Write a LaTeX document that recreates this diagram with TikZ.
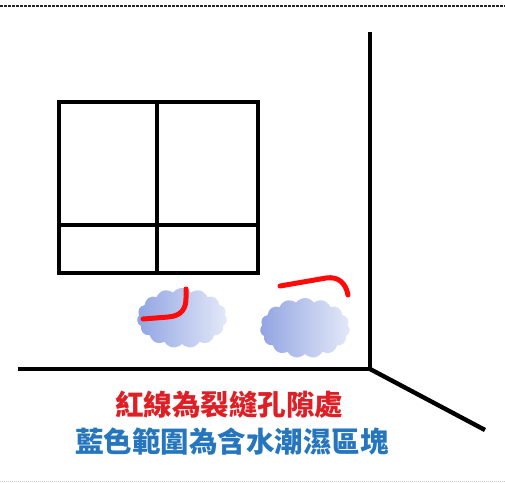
\documentclass[tikz,border=0pt]{standalone}
\usepackage{fontspec}
\newfontfamily\cjkfont{Noto Sans CJK TC}
\usetikzlibrary{shapes.symbols}
\definecolor{crackred}{RGB}{255,10,10}
\definecolor{textred}{RGB}{222,32,38}
\definecolor{textblue}{RGB}{38,118,190}
\definecolor{dampdark}{RGB}{145,164,226}
\definecolor{damplight}{RGB}{228,233,248}
\tikzset{
  wall/.style={line width=3.6pt, color=black},
  frame/.style={line width=4pt, color=black, line cap=rect},
  crack/.style={line width=5pt, color=crackred, line cap=round},
  damp/.style={
    cloud, cloud puffs=15, cloud puff arc=110, aspect=1.5,
    inner sep=0pt, minimum width=90pt, minimum height=60pt,
    left color=dampdark, right color=damplight
  },
  caption/.style={font=\cjkfont\bfseries\fontsize{28.5}{33}\selectfont}
}

\begin{document}
\begin{tikzpicture}[x=1pt, y=-1pt]
  \useasboundingbox (0,0) rectangle (505,482);

  % Page rules
  \draw[line width=2pt, color=black!85, dash pattern=on 2.5pt off 1.5pt]
    (0,6) -- (505,6);
  \draw[line width=0.6pt, color=black!20, dash pattern=on 1pt off 1pt]
    (0,481) -- (505,481);

  % Room corner
  \draw[wall] (370,32) -- (370,369);
  \draw[wall] (18,369) -- (370,369);
  \draw[wall, line width=4.4pt] (370,369) -- (485,430);

  % Window
  \draw[frame] (59,102) rectangle (258,273);
  \draw[frame] (157,102) -- (157,273);
  \draw[frame] (59,225) -- (258,225);

  % Damp areas
  \node[damp] (dampleft)  at (182,318) {};
  \node[damp] (dampright) at (305,328) {};

  % Cracks
  \draw[crack] (143,319) -- (168,317)
    .. controls (182,316) and (186,308) .. (186,298) -- (186,289);
  \draw[crack] (280,286) -- (326,278)
    .. controls (339,276) and (346,284) .. (348,295);

  % Legend
  \node[caption, text=textred]  (legendred)  at (229,405) {紅線為裂縫孔隙處};
  \node[caption, text=textblue] (legendblue) at (232,442) {藍色範圍為含水潮濕區塊};
\end{tikzpicture}
\end{document}
